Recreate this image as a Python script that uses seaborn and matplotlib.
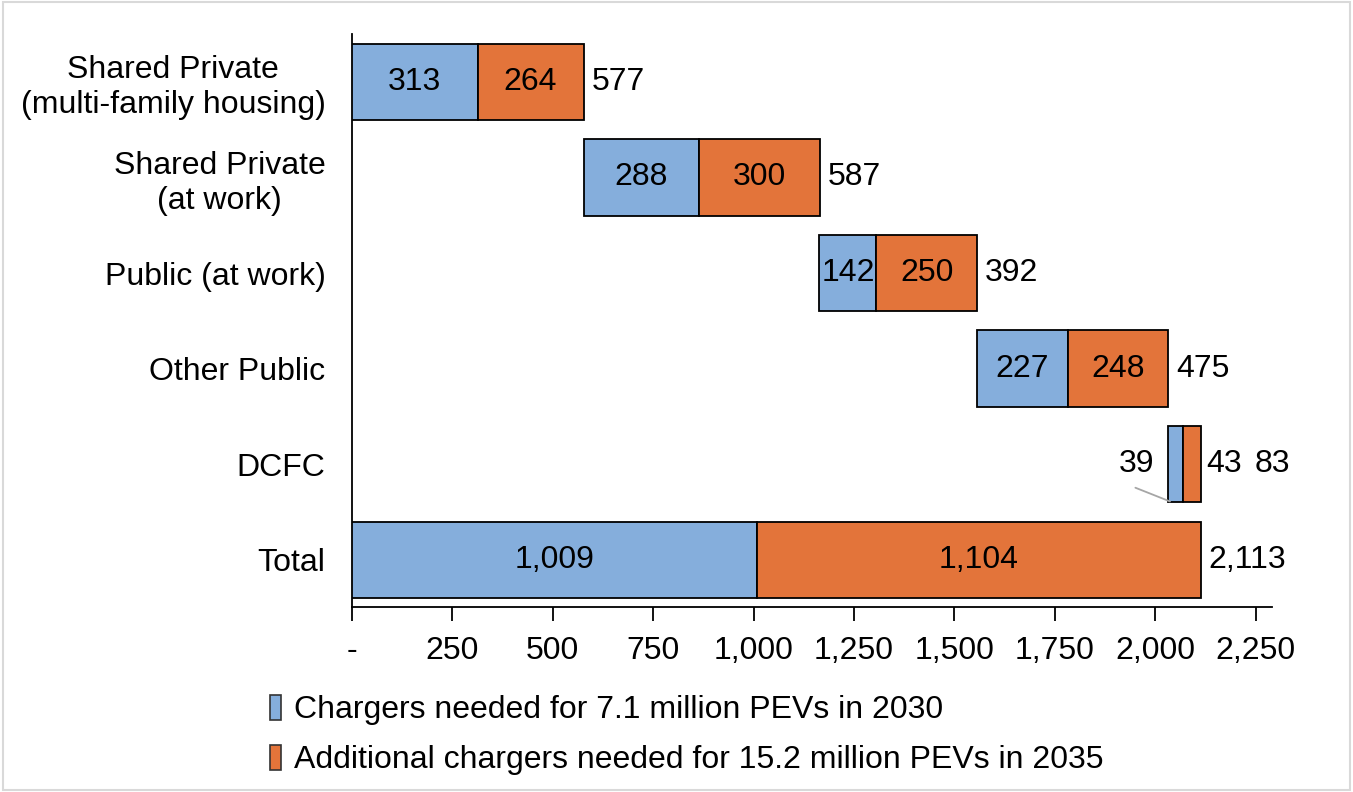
import matplotlib

matplotlib.use("Agg")

import matplotlib.pyplot as plt
import numpy as np
import seaborn as sns
from matplotlib.patches import Patch, Rectangle

categories = [
    "Shared Private\n(multi-family housing)",
    "Shared Private\n(at work)",
    "Public (at work)",
    "Other Public",
    "DCFC",
    "Total",
]
chargers_2030 = [313, 288, 142, 227, 39, 1009]
additional_2035 = [264, 300, 250, 248, 43, 1104]
totals = [577, 587, 392, 475, 83, 2113]
series_names = [
    "Chargers needed for 7.1 million PEVs in 2030",
    "Additional chargers needed for 15.2 million PEVs in 2035",
]
x_ticks = [0, 250, 500, 750, 1000, 1250, 1500, 1750, 2000, 2250]
x_tick_labels = ["-", "250", "500", "750", "1,000", "1,250", "1,500", "1,750", "2,000", "2,250"]

BLUE = "#85AEDC"
ORANGE = "#E3743A"
FS = 23

sns.set_theme(style="white")
plt.rcParams["font.family"] = ["Liberation Sans", "DejaVu Sans"]
plt.rcParams["text.color"] = "black"
plt.rcParams["xtick.color"] = "black"
plt.rcParams["ytick.color"] = "black"

fig = plt.figure(figsize=(13.53, 7.92), dpi=100)
ax = fig.add_axes([0.260, 0.234, 0.680, 0.723])

# waterfall offsets: each category starts where the previous one ended, total starts at 0
starts = []
run = 0
for i, t in enumerate(totals):
    if categories[i] == "Total":
        starts.append(0)
    else:
        starts.append(run)
        run += t

y = np.arange(len(categories))
ax.barh(y, chargers_2030, left=starts, height=0.8, color=BLUE,
        edgecolor="black", linewidth=1.3, zorder=3)
mid = [s + a for s, a in zip(starts, chargers_2030)]
ax.barh(y, additional_2035, left=mid, height=0.8, color=ORANGE,
        edgecolor="black", linewidth=1.3, zorder=3)


def fmt(v):
    return f"{v:,}"


for i, cat in enumerate(categories):
    a, b, t, s = chargers_2030[i], additional_2035[i], totals[i], starts[i]
    if cat == "DCFC":
        # small segments: labels moved outside, 39 gets a leader line
        ax.text(1954, i, fmt(a), ha="center", va="center", fontsize=FS)
        ax.annotate("", xy=(s + 12, i + 0.4), xytext=(1944, i + 0.235),
                    arrowprops=dict(arrowstyle="-", color="#A6A6A6", lw=1.3))
        ax.text(2171, i, fmt(b), ha="center", va="center", fontsize=FS)
        ax.text(2292, i, fmt(t), ha="center", va="center", fontsize=FS)
    else:
        ax.text(s + a / 2, i, fmt(a), ha="center", va="center", fontsize=FS)
        ax.text(s + a + b / 2, i, fmt(b), ha="center", va="center", fontsize=FS)
        ax.text(s + t + 20, i, fmt(t), ha="left", va="center", fontsize=FS)

ax.set_xlim(0, 2290)
ax.set_ylim(5.49, -0.5)
ax.set_yticks(y)
ax.set_yticklabels(categories, fontsize=FS, multialignment="center")
ax.set_xticks(x_ticks)
ax.set_xticklabels(x_tick_labels, fontsize=FS)
ax.tick_params(axis="y", length=0, pad=19)
ax.tick_params(axis="x", direction="out", length=10, width=1.3, color="black", pad=11,
               bottom=True)
for side in ["top", "right"]:
    ax.spines[side].set_visible(False)
for side in ["left", "bottom"]:
    ax.spines[side].set_color("black")
    ax.spines[side].set_linewidth(1.3)

handles = [
    Patch(facecolor=BLUE, edgecolor="#333333", linewidth=1.2, label=series_names[0]),
    Patch(facecolor=ORANGE, edgecolor="#333333", linewidth=1.2, label=series_names[1]),
]
fig.legend(handles=handles, loc="upper left", bbox_to_anchor=(0.190, 0.139),
           frameon=False, fontsize=FS, handlelength=0.35, handleheight=0.85,
           handletextpad=0.4, labelspacing=0.6, borderaxespad=0)

fig.add_artist(Rectangle((0.002, 0.002), 0.996, 0.996, transform=fig.transFigure,
                         fill=False, edgecolor="#D9D9D9", linewidth=1.5))

fig.savefig("out.png", dpi=100)
